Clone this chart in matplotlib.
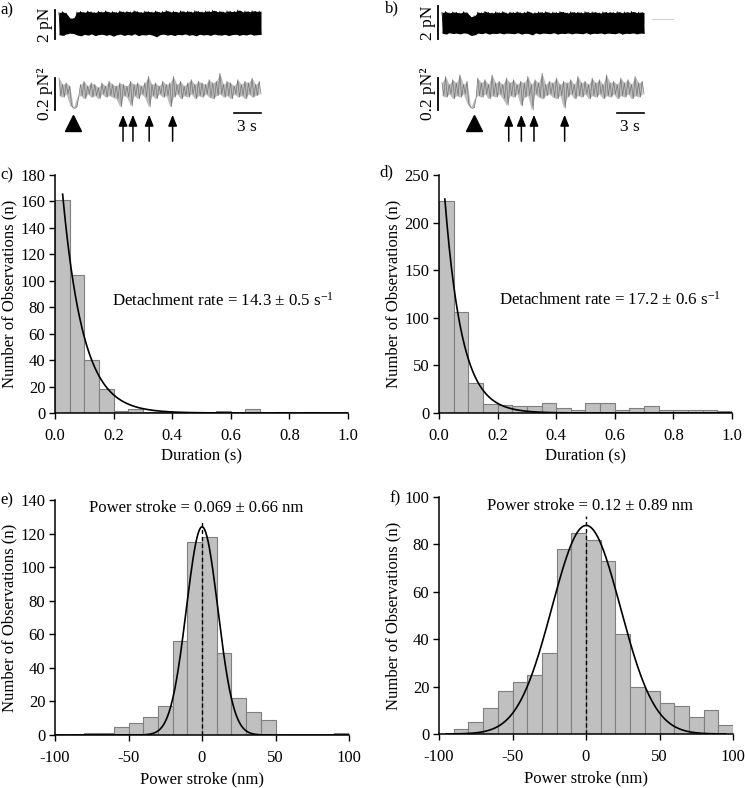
import numpy as np
import matplotlib
matplotlib.use('Agg')
import matplotlib.pyplot as plt

plt.rcParams['font.family'] = ['Liberation Serif', 'DejaVu Serif']
plt.rcParams['mathtext.fontset'] = 'custom'
plt.rcParams['mathtext.rm'] = 'Liberation Serif'
plt.rcParams['mathtext.it'] = 'Liberation Serif:italic'
plt.rcParams['font.size'] = 12

# ---------------- data ----------------
TRACE_LEN = 22.4  # s

# panel a: force trace envelopes (pN) and variance trace (pN^2)
a_force_hi = [1.82,1.88,1.78,1.45,1.42,1.86,1.90,1.84,1.92,1.87,1.83,1.91,1.86,1.94,1.85,1.89,1.84,1.93,1.87,1.90,
              1.86,1.95,1.88,1.84,1.92,1.89,1.86,1.93,1.85,1.90,1.96,1.87,1.91,1.85,1.94,1.88,1.92,1.86,1.95,1.89,
              1.87,1.93,1.90,1.98,1.88,1.92,1.86,1.94,1.89,1.91,2.00,1.87,1.93,1.88,1.95,1.90,1.92]
a_force_lo = [0.30,0.25,0.35,0.40,0.38,0.28,0.22,0.32,0.27,0.35,0.24,0.30,0.33,0.26,0.31,0.20,0.29,0.34,0.25,0.31,
              0.27,0.36,0.23,0.30,0.28,0.33,0.26,0.15,0.30,0.34,0.27,0.31,0.24,0.32,0.29,0.35,0.26,0.30,0.22,0.33,
              0.28,0.31,0.25,0.34,0.29,0.27,0.32,0.24,0.30,0.33,0.26,0.31,0.28,0.35,0.27,0.30,0.32]
a_var_hi = [0.20,0.16,0.17,0.15,0.015,0.02,0.16,0.18,0.15,0.17,0.16,0.14,0.17,0.15,0.18,0.16,0.15,0.17,0.16,0.15,
            0.18,0.16,0.17,0.15,0.17,0.21,0.16,0.17,0.15,0.18,0.16,0.17,0.21,0.16,0.18,0.15,0.17,0.19,0.16,0.18,
            0.17,0.16,0.19,0.17,0.18,0.23,0.16,0.18,0.17,0.15,0.19,0.16,0.18,0.17,0.20,0.16,0.18]
a_var_lo = [0.09,0.08,0.10,0.03,0.01,0.08,0.09,0.07,0.10,0.08,0.09,0.07,0.10,0.08,0.09,0.08,0.07,0.02,0.09,0.08,
            0.025,0.09,0.07,0.10,0.08,0.02,0.09,0.07,0.10,0.08,0.09,0.02,0.08,0.10,0.07,0.09,0.08,0.10,0.07,0.09,
            0.08,0.10,0.08,0.07,0.09,0.10,0.08,0.09,0.07,0.10,0.08,0.09,0.07,0.10,0.08,0.09,0.10]
a_event_time = [1.6]
a_arrow_times = [7.1, 8.2, 10.0, 12.6]

# panel b
b_force_hi = [1.60,1.66,1.58,1.64,1.62,1.57,1.65,1.60,1.35,1.40,1.63,1.59,1.67,1.61,1.58,1.64,1.60,1.66,1.57,1.63,
              1.61,1.65,1.59,1.62,1.68,1.58,1.60,1.64,1.61,1.66,1.59,1.63,1.60,1.67,1.62,1.58,1.65,1.61,1.63,1.59,
              1.66,1.60,1.64,1.62,1.58,1.65,1.61,1.63,1.60,1.66,1.59,1.64,1.62,1.67,1.60,1.63,1.61]
b_force_lo = [0.35,0.30,0.38,0.33,0.36,0.31,0.37,0.34,0.22,0.25,0.36,0.32,0.38,0.30,0.35,0.33,0.37,0.31,0.36,0.34,
              0.32,0.38,0.30,0.35,0.33,0.25,0.37,0.31,0.36,0.34,0.32,0.38,0.30,0.35,0.33,0.37,0.31,0.36,0.34,0.32,
              0.38,0.30,0.35,0.33,0.37,0.31,0.36,0.34,0.32,0.38,0.30,0.35,0.33,0.37,0.31,0.36,0.34]
b_var_hi = [0.17,0.21,0.16,0.19,0.17,0.22,0.16,0.18,0.02,0.015,0.20,0.17,0.19,0.16,0.22,0.17,0.18,0.16,0.20,0.17,
            0.19,0.16,0.18,0.17,0.21,0.16,0.19,0.17,0.23,0.16,0.18,0.17,0.20,0.16,0.18,0.17,0.19,0.16,0.21,0.17,
            0.18,0.16,0.20,0.17,0.19,0.16,0.22,0.17,0.18,0.16,0.20,0.17,0.19,0.16,0.21,0.17,0.18]
b_var_lo = [0.09,0.08,0.10,0.07,0.09,0.08,0.10,0.04,0.01,0.07,0.09,0.08,0.10,0.07,0.09,0.08,0.10,0.07,0.03,0.09,
            0.08,0.10,0.025,0.08,0.09,0.0,0.10,0.08,0.07,0.09,0.10,0.08,0.07,0.09,0.0125,0.08,0.10,0.07,0.09,0.08,
            0.10,0.07,0.09,0.08,0.10,0.07,0.09,0.08,0.10,0.07,0.09,0.08,0.10,0.07,0.09,0.08,0.10]
b_event_time = [3.5]
b_arrow_times = [7.4, 8.8, 10.2, 13.6]

# panels c, d: duration histograms (bin width 0.05 s)
duration_bin_width = 0.05
c_counts = [161, 104, 40, 18, 1.5, 3, 0.8, 0.5, 0, 0, 0, 1.8, 0, 3, 0, 0.8, 0, 0.8, 0, 0]
d_counts = [223, 106, 31, 9, 8, 7, 7, 10, 5, 3, 11, 10, 3, 5, 7, 3, 3, 3, 3, 2]
c_fit_amp, c_rate, c_fit_start = 240.0, 14.3, 0.026
d_fit_amp, d_rate, d_fit_start = 317.0, 17.2, 0.020

# panels e, f: power stroke histograms (bin width 10 nm)
stroke_bin_width = 10
e_counts = [0, 0, 1, 1, 5, 7, 11, 17, 56, 115, 118, 49, 22, 14, 9, 0, 0, 0, 0, 1]
f_counts = [0, 2, 5, 11, 18, 22, 25, 34, 78, 85, 82, 73, 42, 20, 18, 13, 12, 7, 10, 4]
e_fit_amp, e_mu, e_sigma = 124.0, 0.069, 10.7
f_fit_amp, f_mu, f_sigma = 88.0, 0.12, 23.3

# ---------------- layout ----------------
W, H = 745, 788
fig = plt.figure(figsize=(W / 100, H / 100), dpi=100)


def rect(x0, y0, x1, y1):
    return [x0 / W, 1 - y1 / H, (x1 - x0) / W, (y1 - y0) / H]


def zigzag(hi, lo):
    n = len(hi)
    t = np.linspace(0, TRACE_LEN, 2 * n)
    y = np.empty(2 * n)
    y[0::2] = hi
    y[1::2] = lo
    return t, y


def force_panel(box, hi, lo):
    ax = fig.add_axes(rect(*box))
    ax.set_xlim(0, TRACE_LEN)
    ax.set_ylim(0, 2)
    ax.axis('off')
    t = np.linspace(0, TRACE_LEN, len(hi))
    ax.fill_between(t, lo, hi, color='black', lw=0)
    tz, yz = zigzag(hi, lo)
    ax.plot(tz, yz, color='black', lw=0.6, clip_on=False)
    ax.plot([-0.45, -0.45], [0, 2], color='black', lw=1.3, clip_on=False)
    ax.text(-1.55, 1.0, '2 pN', rotation=90, ha='center', va='center', fontsize=12.5)
    return ax


def var_panel(box, hi, lo, ev_t, arrows):
    ax = fig.add_axes(rect(*box))
    ax.set_xlim(0, TRACE_LEN)
    ax.set_ylim(0, 0.2)
    ax.axis('off')
    tz, yz = zigzag(hi, lo)
    ax.fill_between(tz[::2], lo, hi, color='#bcbcbc', lw=0, clip_on=False)
    ax.plot(tz, yz, color='#767676', lw=0.5, clip_on=False)
    ax.plot([-0.45, -0.45], [0, 0.2], color='black', lw=1.3, clip_on=False)
    ax.text(-1.55, 0.1, '0.2 pN²', rotation=90, ha='center', va='center', fontsize=12.5)
    ax.plot(ev_t, [-0.08] * len(ev_t), marker='^', ms=12, color='black', ls='none', clip_on=False)
    for t in arrows:
        ax.annotate('', xy=(t, -0.03), xytext=(t, -0.195),
                    arrowprops=dict(arrowstyle='-|>,head_length=0.55,head_width=0.22',
                                    color='black', lw=1.1, shrinkA=0, shrinkB=0),
                    annotation_clip=False)
    ax.plot([TRACE_LEN - 3, TRACE_LEN], [-0.019, -0.019], color='black', lw=1.2, clip_on=False)
    ax.text(TRACE_LEN - 1.6, -0.108, '3 s', ha='center', va='center', fontsize=12.5)
    return ax


force_panel((59, 10, 261, 39), a_force_hi, a_force_lo)
var_panel((59, 78, 261, 110), a_var_hi, a_var_lo, a_event_time, a_arrow_times)
axb = force_panel((442, 6, 644, 39), b_force_hi, b_force_lo)
axb.plot([23.3, 25.6], [1.21, 1.21], color='#d0d0d0', lw=0.8, clip_on=False)
var_panel((442, 78, 644, 110), b_var_hi, b_var_lo, b_event_time, b_arrow_times)


def style(ax):
    for s in ('top', 'right'):
        ax.spines[s].set_visible(False)
    for s in ('left', 'bottom'):
        ax.spines[s].set_linewidth(1.1)
    ax.tick_params(direction='out', length=4, width=1.0, labelsize=12)
    ax.tick_params(axis='x', pad=7)
    ax.tick_params(axis='y', pad=3)


BAR_KW = dict(color='#c0c0c0', edgecolor='#7f7f7f', linewidth=0.8, align='edge')


def duration_panel(box, counts, amp, rate, start, ymax, ystep, label_xy, rate_txt):
    ax = fig.add_axes(rect(*box))
    left = np.arange(len(counts)) * duration_bin_width
    ax.bar(left, counts, width=duration_bin_width, **BAR_KW)
    tt = np.linspace(start, 1.0, 400)
    ax.plot(tt, amp * np.exp(-rate * tt), color='black', lw=1.2)
    ax.set_xlim(0, 1.0)
    ax.set_ylim(0, ymax)
    ax.set_xticks(np.arange(0, 1.01, 0.2))
    ax.set_xticklabels(['%.1f' % v for v in np.arange(0, 1.01, 0.2)])
    ax.set_yticks(np.arange(0, ymax + 1, ystep))
    ax.set_xlabel('Duration (s)', fontsize=12, labelpad=3)
    ax.set_ylabel('Number of Observations (n)', fontsize=12, labelpad=2)
    ax.text(label_xy[0], label_xy[1], rate_txt, ha='left', va='center', fontsize=12.2)
    style(ax)
    return ax


duration_panel((55, 175, 348, 413), c_counts, c_fit_amp, c_rate, c_fit_start, 180, 20, (0.196, 85),
               r'Detachment rate = 14.3 ± 0.5 s$^{-1}$')
duration_panel((439, 175, 732, 413), d_counts, d_fit_amp, d_rate, d_fit_start, 250, 50, (0.206, 119),
               r'Detachment rate = 17.2 ± 0.6 s$^{-1}$')


def stroke_panel(box, counts, amp, mu, sig, ymax, ystep, xr, dash_top, txt, txt_xy):
    ax = fig.add_axes(rect(*box))
    left = -100 + np.arange(len(counts)) * stroke_bin_width
    ax.bar(left, counts, width=stroke_bin_width, **BAR_KW)
    xx = np.linspace(xr[0], xr[1], 500)
    ax.plot(xx, amp * np.exp(-(xx - mu) ** 2 / (2 * sig ** 2)), color='black', lw=1.2)
    ax.plot([mu, mu], [0, dash_top], color='black', lw=1.0, ls=(0, (3, 2)))
    ax.set_xlim(-100, 100)
    ax.set_ylim(0, ymax)
    ax.set_xticks([-100, -50, 0, 50, 100])
    ax.set_xticklabels(['-100', '-50', '0', '50', '100'])
    ax.set_yticks(np.arange(0, ymax + 1, ystep))
    ax.set_xlabel('Power stroke (nm)', fontsize=12, labelpad=4)
    ax.set_ylabel('Number of Observations (n)', fontsize=12, labelpad=2)
    ax.text(txt_xy[0], txt_xy[1], txt, ha='center', va='center', fontsize=12)
    style(ax)
    return ax


stroke_panel((55, 500, 349, 735), e_counts, e_fit_amp, e_mu, e_sigma, 140, 20, (-100, 100), 128,
             'Power stroke = 0.069 ± 0.66 nm', (-4, 135.5))
stroke_panel((439, 497, 733, 734), f_counts, f_fit_amp, f_mu, f_sigma, 100, 20, (-95, 95), 92,
             'Power stroke = 0.12 ± 0.89 nm', (2.4, 96))

# panel letters
for txt, x, y in [('a)', 0, 10), ('b)', 385, 8), ('c)', 0, 175), ('d)', 379, 172),
                  ('e)', 0, 500), ('f)', 389, 498)]:
    fig.text(x / W, 1 - y / H, txt, ha='left', va='center', fontsize=12)

fig.savefig('out.png', dpi=100)
